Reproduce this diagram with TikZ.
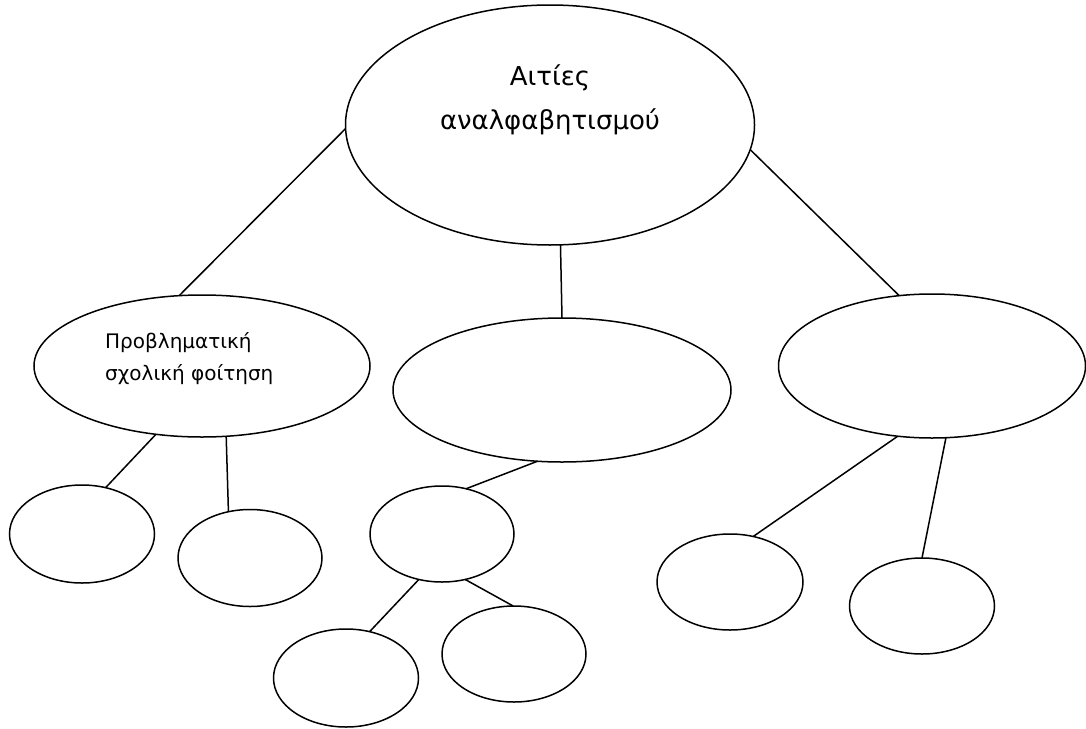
\documentclass[tikz,border=0pt]{standalone}
\usepackage{fontspec}
\setmainfont{DejaVu Sans}
\usetikzlibrary{shapes.geometric}
\begin{document}
\begin{tikzpicture}[x=1pt,y=-1pt,
  oval/.style={draw=black,line width=1.5pt,ellipse,inner sep=0pt,outer sep=0pt},
  link/.style={draw=black,line width=1.5pt},
  bigtext/.style={font=\fontsize{26}{44}\selectfont,align=center,inner sep=0pt},
  midtext/.style={font=\fontsize{20}{32}\selectfont,align=left,inner sep=0pt}]
\fill[white] (0,0) rectangle (1086,728);
\useasboundingbox (0,0) rectangle (1086,728);
% main nodes
\node[oval,minimum width=409pt,minimum height=240pt] (top) at (550,125) {};
\node[oval,minimum width=336pt,minimum height=142pt] (left) at (202,366) {};
\node[oval,minimum width=338pt,minimum height=144pt] (mid) at (562,390) {};
\node[oval,minimum width=307pt,minimum height=144pt] (right) at (932,366) {};
% small nodes
\node[oval,minimum width=145pt,minimum height=98pt] (e1) at (82,534) {};
\node[oval,minimum width=144pt,minimum height=97pt] (e2) at (250,558) {};
\node[oval,minimum width=144pt,minimum height=96pt] (e3) at (442,534) {};
\node[oval,minimum width=145pt,minimum height=98pt] (e4) at (346,678) {};
\node[oval,minimum width=144pt,minimum height=96pt] (e5) at (514,654) {};
\node[oval,minimum width=146pt,minimum height=96pt] (e6) at (730,582) {};
\node[oval,minimum width=145pt,minimum height=96pt] (e7) at (922,606) {};
% texts
\node[bigtext] (toptext) at (550,100) {Αιτίες\\αναλφαβητισμού};
\node[midtext,anchor=west] (lefttext) at (105,359) {Προβληματική\\σχολική φοίτηση};
% connectors
\draw[link] (top.181) -- (left.108.4);
\draw[link] (top.275.7) -- (mid.90);
\draw[link] (top.353) -- (right.115.3);
\draw[link] (left.236.3) -- (e1.63.4);
\draw[link] (left.289.4) -- (e2.115.6);
\draw[link] (mid.251.6) -- (e3.62.5);
\draw[link] (e3.243.9) -- (e4.63.4);
\draw[link] (e3.297.5) -- (e5.91.2);
\draw[link] (right.244.7) -- (e6.63.4);
\draw[link] (right.281) -- (e7.90);
\end{tikzpicture}
\end{document}
